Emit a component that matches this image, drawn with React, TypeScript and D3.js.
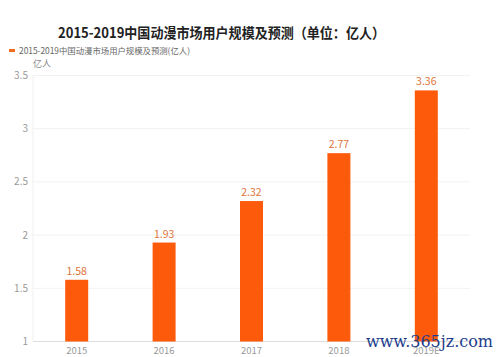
import React from "react";
import * as d3 from "d3";

const categories = ["2015", "2016", "2017", "2018", "2019E"];
const values = [1.58, 1.93, 2.32, 2.77, 3.36];
const yTicks = [1, 1.5, 2, 2.5, 3, 3.5];
const title = "2015-2019中国动漫市场用户规模及预测（单位：亿人）";
const legendLabel = "2015-2019中国动漫市场用户规模及预测(亿人)";
const unitLabel = "亿人";
const watermark = "www.365jz.com";

const W = 500, H = 357;
const left = 33, right = 470, top = 75.5, bottom = 341.5;
const font = "'Noto Sans CJK SC', 'Noto Sans', sans-serif";

export default function App() {
  const x = d3.scaleBand().domain(categories).range([left, right]).paddingInner(0).paddingOuter(0);
  const y = d3.scaleLinear().domain([1, 3.5]).range([bottom, top]);
  const barW = 23;
  return (
    <svg width={W} height={H} style={{ position: "absolute", left: 0, top: 0, background: "#fff" }}>
      <text x={58} y={38} fontFamily={font} fontWeight="bold" fontSize={14} fill="#222" textLength={327} lengthAdjust="spacingAndGlyphs">{title}</text>
      <rect x={9} y={49} width={6} height={3} fill="#f26a1b" />
      <text x={19} y={54} fontFamily={font} fontSize={8.5} fill="#666" textLength={171} lengthAdjust="spacingAndGlyphs">{legendLabel}</text>
      <text x={33} y={67} fontFamily={font} fontSize={9} fill="#888">{unitLabel}</text>
      {yTicks.map((t) => (
        <g key={t}>
          <line x1={left} x2={right} y1={y(t)} y2={y(t)} stroke={t === 1 ? "#ddd" : "#f2f2f2"} strokeWidth={1} />
          <text x={28} y={y(t) + 3.5} textAnchor="end" fontFamily={font} fontSize={10} fill="#999">{t}</text>
        </g>
      ))}
      <line x1={left} x2={left} y1={top} y2={bottom} stroke="#f0f0f0" />
      {categories.map((c, i) => {
        const cx = x(c)! + x.bandwidth() / 2;
        return (
          <g key={c}>
            <rect x={cx - barW / 2} y={y(values[i])} width={barW} height={y(1) - y(values[i])} fill="#fd5a0c" />
            <text x={cx} y={y(values[i]) - 5} textAnchor="middle" fontFamily={font} fontSize={10.5} fill="#e0743a">{values[i].toFixed(2)}</text>
            <text x={cx} y={354} textAnchor="middle" fontFamily={font} fontSize={9.5} fill="#999">{c}</text>
          </g>
        );
      })}
      <text x={493} y={347} textAnchor="end" fontFamily="'DejaVu Serif', serif" fontSize={16} fill="#1c3d8c">{watermark}</text>
    </svg>
  );
}
